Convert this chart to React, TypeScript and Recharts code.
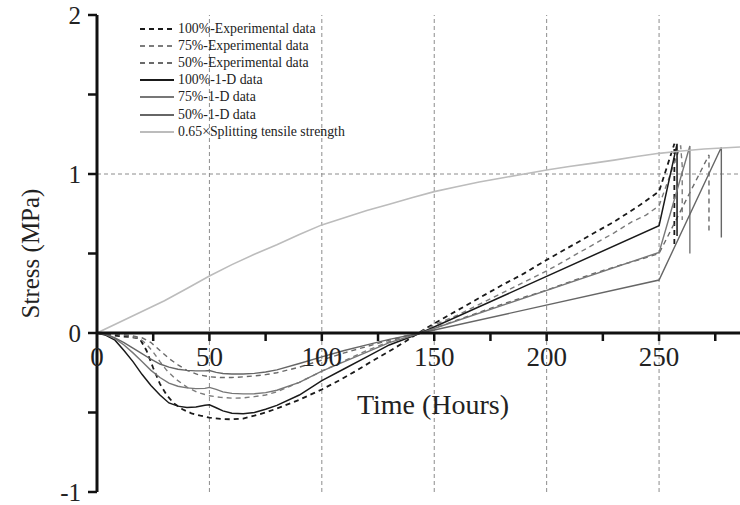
import React from "react";
import { LineChart, Line, XAxis, YAxis, ReferenceLine, ReferenceDot } from "recharts";

const FONT = '"Liberation Serif", "Times New Roman", Times, serif';

// 1-D model results: time (hours) and stress (MPa)
const t1d100 = [0, 4, 8, 12, 16, 20, 24, 28, 32, 36, 40, 44, 48, 50, 53, 56, 60, 65, 70, 75, 80, 90, 100, 110, 120, 130, 144, 250, 258, 258];
const s1d100 = [0, -0.015, -0.045, -0.11, -0.18, -0.26, -0.33, -0.39, -0.44, -0.46, -0.468, -0.466, -0.455, -0.452, -0.47, -0.49, -0.505, -0.508, -0.5, -0.48, -0.455, -0.39, -0.3, -0.225, -0.15, -0.075, 0, 0.675, 1.19, 0.61];

const t1d75 = [0, 4, 8, 12, 16, 20, 24, 28, 32, 36, 40, 44, 48, 50, 53, 56, 60, 65, 70, 75, 80, 90, 100, 110, 120, 130, 144, 250, 263.7, 263.7];
const s1d75 = [0, -0.01, -0.035, -0.075, -0.125, -0.18, -0.235, -0.28, -0.315, -0.335, -0.345, -0.35, -0.348, -0.342, -0.355, -0.37, -0.38, -0.383, -0.382, -0.375, -0.36, -0.31, -0.24, -0.18, -0.12, -0.06, 0, 0.507, 1.176, 0.5];

const t1d50 = [0, 4, 8, 12, 16, 20, 24, 28, 32, 36, 40, 44, 48, 50, 53, 56, 60, 65, 70, 75, 80, 90, 100, 110, 120, 130, 144, 250, 277.7, 277.7];
const s1d50 = [0, -0.008, -0.03, -0.06, -0.095, -0.13, -0.165, -0.195, -0.215, -0.228, -0.235, -0.238, -0.238, -0.236, -0.248, -0.255, -0.258, -0.258, -0.254, -0.245, -0.232, -0.192, -0.15, -0.11, -0.075, -0.04, 0, 0.333, 1.168, 0.6];

// measured stress
const tExp100 = [0, 5, 10, 15, 19, 22, 25, 28, 31, 34, 38, 42, 46, 50, 55, 60, 65, 70, 75, 80, 90, 100, 108, 115, 122, 130, 137, 143, 150, 160, 170, 180, 190, 200, 210, 220, 230, 240, 250, 256.8, 256.8];
const sExp100 = [0, -0.01, -0.02, -0.025, -0.035, -0.11, -0.22, -0.32, -0.39, -0.44, -0.48, -0.505, -0.52, -0.532, -0.54, -0.543, -0.538, -0.52, -0.5, -0.475, -0.42, -0.355, -0.296, -0.24, -0.18, -0.115, -0.055, 0, 0.06, 0.14, 0.22, 0.3, 0.375, 0.46, 0.54, 0.62, 0.7, 0.79, 0.89, 1.19, 0.55];

const tExp75 = [0, 5, 10, 15, 19, 22, 25, 28, 31, 35, 40, 45, 50, 55, 60, 65, 70, 75, 80, 90, 100, 110, 120, 130, 137, 143, 150, 160, 170, 180, 190, 200, 210, 220, 230, 238, 244, 250, 259.6, 260.3, 260.3];
const sExp75 = [0, -0.005, -0.01, -0.02, -0.035, -0.07, -0.12, -0.18, -0.235, -0.29, -0.34, -0.375, -0.395, -0.405, -0.41, -0.408, -0.4, -0.39, -0.37, -0.31, -0.24, -0.175, -0.11, -0.055, -0.02, 0, 0.05, 0.11, 0.18, 0.25, 0.32, 0.39, 0.47, 0.55, 0.63, 0.7, 0.74, 0.8, 1.18, 1.05, 0.71];

const tExp50 = [0, 5, 10, 15, 20, 24, 28, 32, 36, 40, 45, 50, 55, 60, 65, 70, 75, 80, 90, 100, 110, 120, 130, 137, 143, 150, 160, 170, 180, 190, 200, 210, 220, 230, 241, 250, 272.2, 272.2];
const sExp50 = [0, -0.005, -0.01, -0.015, -0.03, -0.06, -0.11, -0.16, -0.2, -0.235, -0.262, -0.275, -0.28, -0.28, -0.276, -0.27, -0.262, -0.25, -0.215, -0.17, -0.125, -0.085, -0.045, -0.02, 0, 0.03, 0.08, 0.13, 0.18, 0.225, 0.27, 0.32, 0.37, 0.415, 0.46, 0.5, 1.12, 0.637];

// 0.65 x splitting tensile strength
const tStrength = [0, 10, 20, 30, 40, 50, 60, 70, 80, 90, 100, 110, 120, 130, 140, 150, 160, 170, 180, 190, 200, 210, 220, 230, 240, 250, 260, 270, 280, 286];
const sStrength = [0, 0.068, 0.135, 0.203, 0.28, 0.358, 0.43, 0.495, 0.555, 0.62, 0.68, 0.725, 0.77, 0.81, 0.85, 0.889, 0.92, 0.95, 0.975, 1.0, 1.025, 1.047, 1.067, 1.087, 1.11, 1.13, 1.145, 1.157, 1.165, 1.17];

const xMajor = [0, 50, 100, 150, 200, 250];
const xMinor = [25, 75, 125, 175, 225, 275];
const xGrid = [50, 100, 150, 200, 250];
const yTicks = [-1, -0.5, 0, 0.5, 1, 1.5, 2];

const pts = (t: number[], s: number[]) => t.map((x, i) => ({ t: x, s: s[i] }));

const series = [
  { name: "100%-Experimental data", data: pts(tExp100, sExp100), color: "#1a1a1a", width: 1.8, dash: "5 4" },
  { name: "75%-Experimental data", data: pts(tExp75, sExp75), color: "#7c7c7c", width: 1.4, dash: "5 4" },
  { name: "50%-Experimental data", data: pts(tExp50, sExp50), color: "#6a6a6a", width: 1.4, dash: "5 4" },
  { name: "100%-1-D data", data: pts(t1d100, s1d100), color: "#1a1a1a", width: 1.5, dash: undefined },
  { name: "75%-1-D data", data: pts(t1d75, s1d75), color: "#777777", width: 1.4, dash: undefined },
  { name: "50%-1-D data", data: pts(t1d50, s1d50), color: "#666666", width: 1.4, dash: undefined },
  { name: "0.65\u00d7Splitting tensile strength", data: pts(tStrength, sStrength), color: "#bcbcbc", width: 1.6, dash: undefined },
];

const TickMark = (p: any) => (
  <line x1={p.cx} y1={p.cy} x2={p.cx} y2={p.cy + 8} stroke="#111" strokeWidth={2.5} />
);

const TickLabel = (value: number) => (p: any) => (
  <g>
    {value !== 0 && <line x1={p.cx} y1={p.cy} x2={p.cx} y2={p.cy + 8} stroke="#111" strokeWidth={2.5} />}
    <text x={p.cx} y={p.cy + 33} textAnchor="middle" fontFamily={FONT} fontSize={27} fill="#222">
      {value}
    </text>
  </g>
);

const YTitle = (p: any) => {
  const vb = p.viewBox;
  const cy = vb.y + vb.height / 2;
  return (
    <text x={30} y={cy} transform={`rotate(-90, 30, ${cy})`} textAnchor="middle" dominantBaseline="central"
      fontFamily={FONT} fontSize={25} fill="#222">
      Stress (MPa)
    </text>
  );
};

function LegendBox() {
  return (
    <div style={{ position: "absolute", left: 138, top: 20, fontFamily: FONT, fontSize: 13.8, color: "#222" }}>
      {series.map((s) => (
        <div key={s.name} style={{ display: "flex", alignItems: "center", height: 17.2 }}>
          <svg width={38} height={10} style={{ marginRight: 2 }}>
            <line x1={2} y1={5} x2={36} y2={5} stroke={s.color} strokeWidth={s.width + 0.4} strokeDasharray={s.dash} />
          </svg>
          <span style={{ whiteSpace: "nowrap" }}>{s.name}</span>
        </div>
      ))}
    </div>
  );
}

export default function App() {
  return (
    <div style={{ position: "absolute", left: 0, top: 0, width: 740, height: 505, background: "#fff" }}>
      <LineChart width={740} height={505} margin={{ top: 15, right: 0, bottom: 13, left: 0 }}>
        <XAxis type="number" dataKey="t" domain={[0, 286]} allowDataOverflow hide />
        <YAxis
          type="number"
          domain={[-1, 2]}
          ticks={yTicks}
          interval={0}
          width={97}
          axisLine={{ stroke: "#111", strokeWidth: 3 }}
          tickLine={{ stroke: "#111", strokeWidth: 2.5 }}
          tickSize={9}
          tickMargin={7}
          tickFormatter={(v: number) => (Number.isInteger(v) ? String(v) : "")}
          tick={{ fill: "#222", fontSize: 25, fontFamily: FONT }}
          label={{ content: YTitle }}
        />
        {xGrid.map((x) => (
          <ReferenceLine key={`gx${x}`} x={x} stroke="#8c8c8c" strokeDasharray="4 3" strokeWidth={1} />
        ))}
        <ReferenceLine y={1} stroke="#8c8c8c" strokeDasharray="4 3" strokeWidth={1} />
        {series.map((s) => (
          <Line
            key={s.name}
            data={s.data}
            dataKey="s"
            name={s.name}
            type="linear"
            stroke={s.color}
            strokeWidth={s.width}
            strokeDasharray={s.dash}
            dot={false}
            activeDot={false}
            isAnimationActive={false}
          />
        ))}
        <ReferenceLine y={0} stroke="#111" strokeWidth={3} />
        {xMinor.map((x) => (
          <ReferenceDot key={`mx${x}`} x={x} y={0} r={0} shape={TickMark} />
        ))}
        {xMajor.map((x) => (
          <ReferenceDot key={`lx${x}`} x={x} y={0} r={0} shape={TickLabel(x)} />
        ))}
      </LineChart>
      <div style={{ position: "absolute", left: 0, width: 866, top: 389, textAlign: "center", fontFamily: FONT, fontSize: 28, color: "#222" }}>
        Time (Hours)
      </div>
      <LegendBox />
    </div>
  );
}
